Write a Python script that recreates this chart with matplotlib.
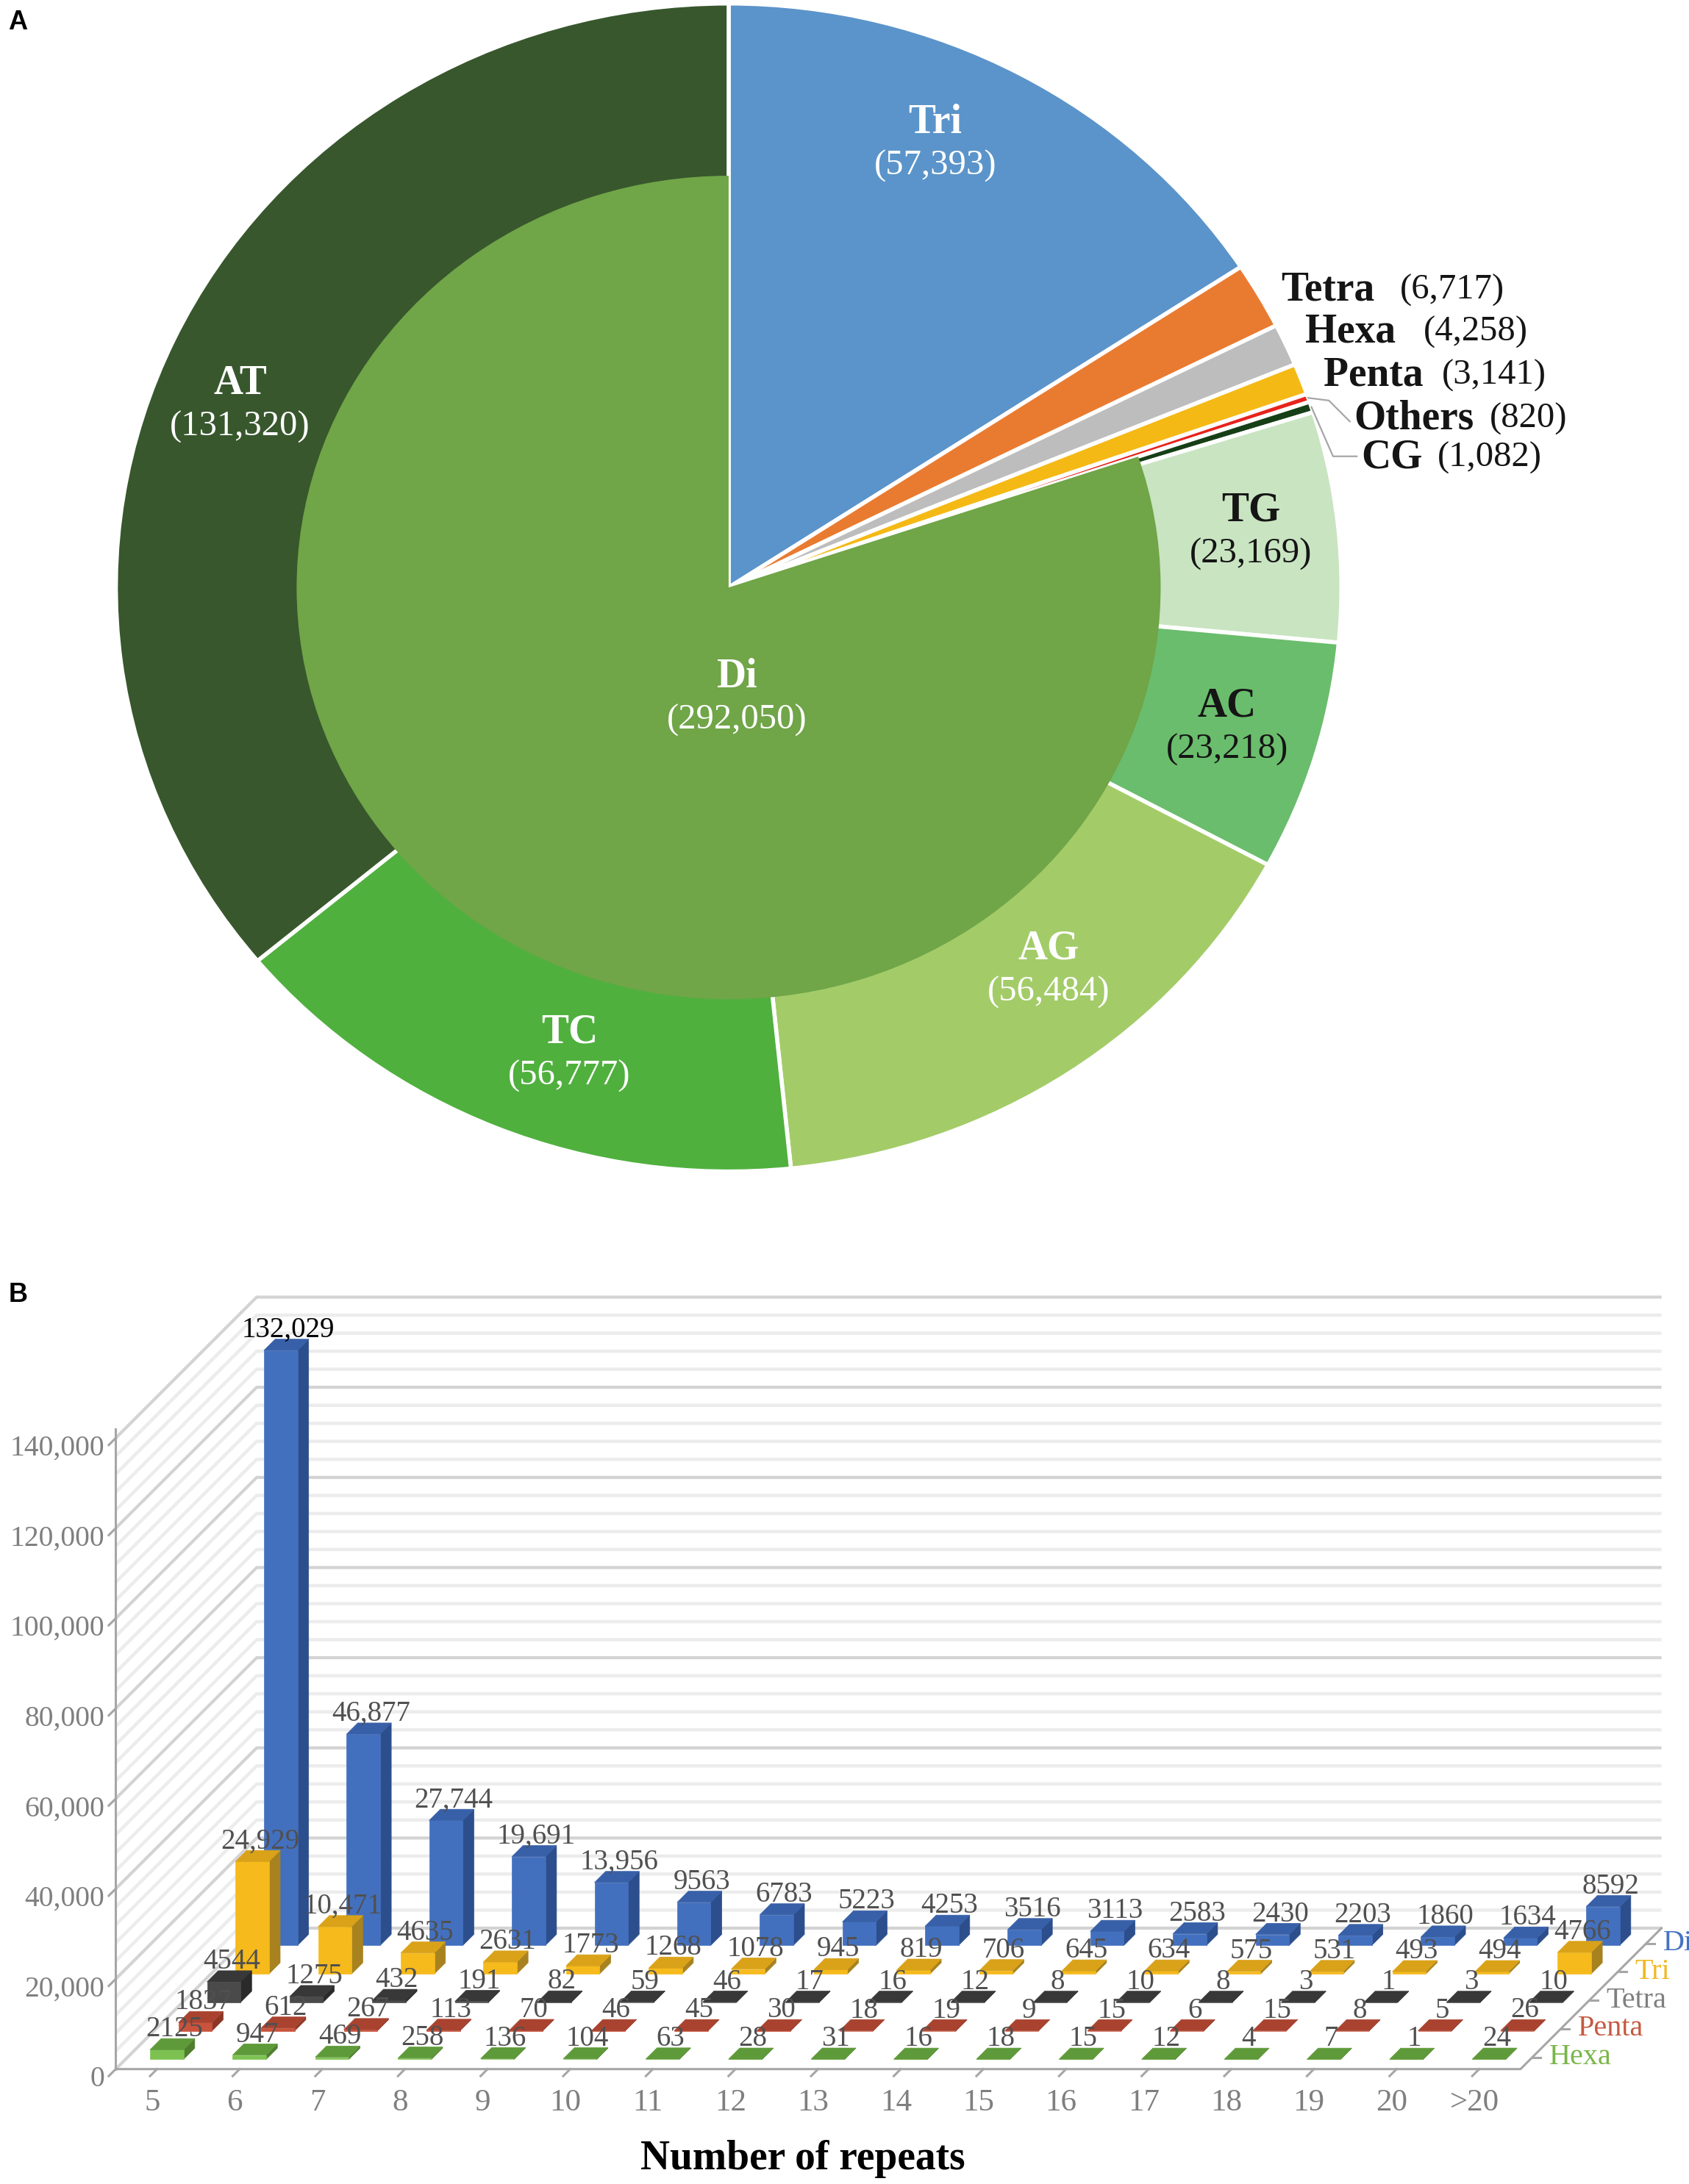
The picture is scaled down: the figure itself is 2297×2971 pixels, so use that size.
import matplotlib
matplotlib.use('Agg')
import matplotlib.pyplot as plt
from matplotlib.patches import Polygon
from matplotlib.transforms import ScaledTranslation
import numpy as np

plt.rcParams['font.family'] = ['Liberation Serif', 'DejaVu Serif']

# ---- data, panel A ----
motif_names = ['Tri', 'Tetra', 'Hexa', 'Penta', 'Others']
motif_counts = [57393, 6717, 4258, 3141, 820]
di_names = ['CG', 'TG', 'AC', 'AG', 'TC', 'AT']
di_counts = [1082, 23169, 23218, 56484, 56777, 131320]
di_total = 292050

# ---- data, panel B ----
repeats = ['5', '6', '7', '8', '9', '10', '11', '12', '13', '14', '15',
           '16', '17', '18', '19', '20', '>20']
di = [132029, 46877, 27744, 19691, 13956, 9563, 6783, 5223, 4253, 3516,
      3113, 2583, 2430, 2203, 1860, 1634, 8592]
tri = [24929, 10471, 4635, 2631, 1773, 1268, 1078, 945, 819, 706,
       645, 634, 575, 531, 493, 494, 4766]
tetra = [4544, 1275, 432, 191, 82, 59, 46, 17, 16, 12, 8, 10, 8, 3, 1, 3, 10]
penta = [1837, 612, 267, 113, 70, 46, 45, 30, 18, 19, 9, 15, 6, 15, 8, 5, 26]
hexa = [2125, 947, 469, 258, 136, 104, 63, 28, 31, 16, 18, 15, 12, 4, 7, 1, 24]
y_ticks = [0, 20000, 40000, 60000, 80000, 100000, 120000, 140000]

# layout units: reference pixels at 1210 px wide
W = 1210.0
S = 2297 / W
H = 2971 / S


def rect(l, t, r, b):
    return [l / W, 1 - b / H, (r - l) / W, (b - t) / H]


fig = plt.figure(figsize=(22.97, 29.71), dpi=100)

# ================= panel A =================
CX, CY, RX, RY = 522.0, 421.0, 439.0, 418.5
ax1 = fig.add_axes(rect(CX - 1.18 * RX, CY - RY, CX + 1.5 * RX, CY + 1.02 * RY))

outer_vals = motif_counts + di_counts
outer_cols = ['#5B94CA', '#E97B31', '#BDBDBD', '#F5B915', '#E8241D',
              '#173F17', '#C9E4C1', '#6ABD6C', '#A3CC69', '#50B03E', '#38572D']
ax1.pie(outer_vals, colors=outer_cols, startangle=90, counterclock=False,
        radius=1.0, wedgeprops=dict(edgecolor='white', linewidth=4))
ax1.pie([sum(motif_counts), di_total], colors=['none', '#70A548'],
        startangle=90, counterclock=False, radius=0.705,
        wedgeprops=dict(linewidth=0))
ax1.set_aspect('auto')
ax1.set_xlim(-1.18, 1.5)
ax1.set_ylim(-1.02, 1.0)
ax1.axis('off')


def pxy(x, y):
    return (x - CX) / RX, (CY - y) / RY


# labels inside the wedges
inside = {'Tri': (670, 88, 'white'), 'AT': (172, 275, 'white'),
          'TC': (408, 740, 'white'), 'AG': (751, 680, 'white'),
          'AC': (879, 506, '#151515'), 'TG': (896, 366, '#151515'),
          'Di': (528, 485, 'white')}
all_counts = dict(zip(motif_names + di_names, motif_counts + di_counts))
all_counts['Di'] = di_total
for name, (x, y, c) in inside.items():
    ax1.text(*pxy(x, y), name, ha='center', va='center', fontsize=40,
             fontweight='bold', color=c)
    ax1.text(*pxy(x, y + 31), '({:,})'.format(all_counts[name]), ha='center',
             va='center', fontsize=35, color=c)

# labels at the right
outside = {'Tetra': (918, 208, 1003), 'Hexa': (935, 238, 1020),
           'Penta': (948, 269, 1033), 'Others': (970, 300, 1067),
           'CG': (975, 328, 1030)}
for name, (x, y, x2) in outside.items():
    ax1.text(*pxy(x, y), name, ha='left', va='center', fontsize=40,
             fontweight='bold', color='#151515')
    ax1.text(*pxy(x2, y), '({:,})'.format(all_counts[name]), ha='left',
             va='center', fontsize=35, color='#151515')

# leader lines for the two thin slices
total = sum(outer_vals)
cum_others = sum(motif_counts[:4]) + motif_counts[4] / 2
cum_cg = sum(motif_counts) + di_counts[0] / 2
for cum, pts in [(cum_others, [(952, 287), (967, 302)]),
                 (cum_cg, [(955, 327), (972, 327)])]:
    th = 2 * np.pi * cum / total
    xs = [np.sin(th)] + [pxy(*p)[0] for p in pts]
    ys = [np.cos(th)] + [pxy(*p)[1] for p in pts]
    ax1.plot(xs, ys, color='#A6A6A6', lw=1.6)

# ================= panel B =================
CW = 59.2               # px per category
X0 = 112.5              # px of first category at front edge
Y0 = 1482.7             # px of value 0 at front edge
K = 64.6 / 20000        # px per count
DEPTH = 101             # floor depth in px
BAR_D = 8
HW = 12 / CW

xl = (-0.55, 18.4)
yl = (-3000, 176000)
ax2 = fig.add_axes(rect(X0 + xl[0] * CW, Y0 - yl[1] * K,
                        X0 + xl[1] * CW, Y0 - yl[0] * K))
ax2.set_xlim(*xl)
ax2.set_ylim(*yl)


def proj(i, v, d):
    return i + d / CW, v + d / K


# walls (gridlines on back and side)
for major in (False, True):
    for v in range(0, 140001, 4000):
        if (v % 20000 == 0) != major:
            continue
        p0 = proj(-0.5, v, 0)
        p1 = proj(-0.5, v, DEPTH)
        p2 = proj(16.5, v, DEPTH)
        ax2.plot([p0[0], p1[0], p2[0]], [p0[1], p1[1], p2[1]],
                 color='#D3D3D3' if major else '#ECECEC',
                 lw=3 if major else 3.2, solid_capstyle='butt', zorder=1)

# floor edges
p0, p1, p2 = proj(-0.5, 0, 0), proj(16.5, 0, 0), proj(16.5, 0, DEPTH)
ax2.plot([p0[0], p1[0], p2[0]], [p0[1], p1[1], p2[1]], color='#A6A6A6',
         lw=2.2, zorder=2, clip_on=False)

# bars, back row first
series = [('Hexa', hexa, ('#7DC251', '#4F7E2F', '#5F9A3A'), '#7AB648'),
          ('Penta', penta, ('#C9533C', '#8C3626', '#A9432F'), '#C55A40'),
          ('Tetra', tetra, ('#4A4A4A', '#2A2A2A', '#383838'), '#7F7F7F'),
          ('Tri', tri, ('#F6BA1C', '#A7821E', '#D9A219'), '#F2B822'),
          ('Di', di, ('#4370BE', '#2C4E8C', '#3860A8'), '#4472C4')]

for j in range(len(series) - 1, -1, -1):
    name, vals, (cf, cs, ct), lc = series[j]
    df = 7 + 20.4 * j
    db = df + BAR_D
    for i, v in enumerate(vals):
        front = [proj(i - HW, 0, df), proj(i + HW, 0, df),
                 proj(i + HW, v, df), proj(i - HW, v, df)]
        side = [proj(i + HW, 0, df), proj(i + HW, 0, db),
                proj(i + HW, v, db), proj(i + HW, v, df)]
        top = [proj(i - HW, v, df), proj(i + HW, v, df),
               proj(i + HW, v, db), proj(i - HW, v, db)]
        for pts, c in [(side, cs), (front, cf), (top, ct)]:
            ax2.add_patch(Polygon(pts, closed=True, facecolor=c,
                                  edgecolor=c, lw=0.5, zorder=3))
        txt = '{:,}'.format(v) if v >= 10000 else str(v)
        tx = proj(i, v, df + 5.5)[0]
        ty = proj(i, v, db)[1] + 1.5 / K
        ax2.text(tx, ty, txt, ha='center', va='baseline', fontsize=28,
                 color='black' if v == max(di) else '#505050', zorder=10)
    # depth axis tick and label
    c = df + 1.5
    a, b = proj(16.5, 0, c), proj(16.5 + 6 / CW, 0, c)
    ax2.plot([a[0], b[0]], [a[1], b[1]], color='#A6A6A6', lw=2.2,
             clip_on=False)
    lx, ly = proj(16.5 + 12 / CW, 0, c)
    ax2.text(lx, ly, name, ha='left', va='center', fontsize=29, color=lc)

# value axis
for s in ['top', 'right', 'bottom']:
    ax2.spines[s].set_visible(False)
ax2.spines['left'].set_position(('data', -0.5))
ax2.spines['left'].set_bounds(0, 142000)
ax2.spines['left'].set_color('#A6A6A6')
ax2.spines['left'].set_linewidth(2.2)
ax2.set_yticks(y_ticks)
ax2.set_yticklabels(['{:,}'.format(v) for v in y_ticks])
ax2.tick_params(axis='y', length=0, pad=11, labelsize=28.5,
                labelcolor='#7F7F7F')
for lab in ax2.get_yticklabels():
    lab.set_transform(lab.get_transform() +
                      ScaledTranslation(0, -6.8 / 72, fig.dpi_scale_trans))
for v in y_ticks:
    a, b = proj(-0.5, v, 0), proj(-0.5, v, -5)
    ax2.plot([a[0], b[0]], [a[1], b[1]], color='#A6A6A6', lw=2.2,
             clip_on=False)

# category axis
ax2.set_xticks(range(len(repeats)))
ax2.set_xticklabels(repeats)
ax2.tick_params(axis='x', length=0, pad=6, labelsize=31,
                labelcolor='#7F7F7F')
for lab in ax2.get_xticklabels():
    lab.set_transform(lab.get_transform() +
                      ScaledTranslation(-4.8 / 72, 0, fig.dpi_scale_trans))
for i in range(len(repeats)):
    a, b = proj(i, 0, 0), proj(i, 0, -5)
    ax2.plot([a[0], b[0]], [a[1], b[1]], color='#A6A6A6', lw=2.2,
             clip_on=False)

fig.text(575 / W, 1 - 1547 / H, 'Number of repeats', ha='center',
         va='center', fontsize=40, fontweight='bold')

fig.text(6 / W, 1 - 16 / H, 'A', ha='left', va='center', fontsize=26,
         fontweight='bold', family='Liberation Sans')
fig.text(6 / W, 1 - 928 / H, 'B', ha='left', va='center', fontsize=26,
         fontweight='bold', family='Liberation Sans')

fig.savefig('out.png', dpi=100)
